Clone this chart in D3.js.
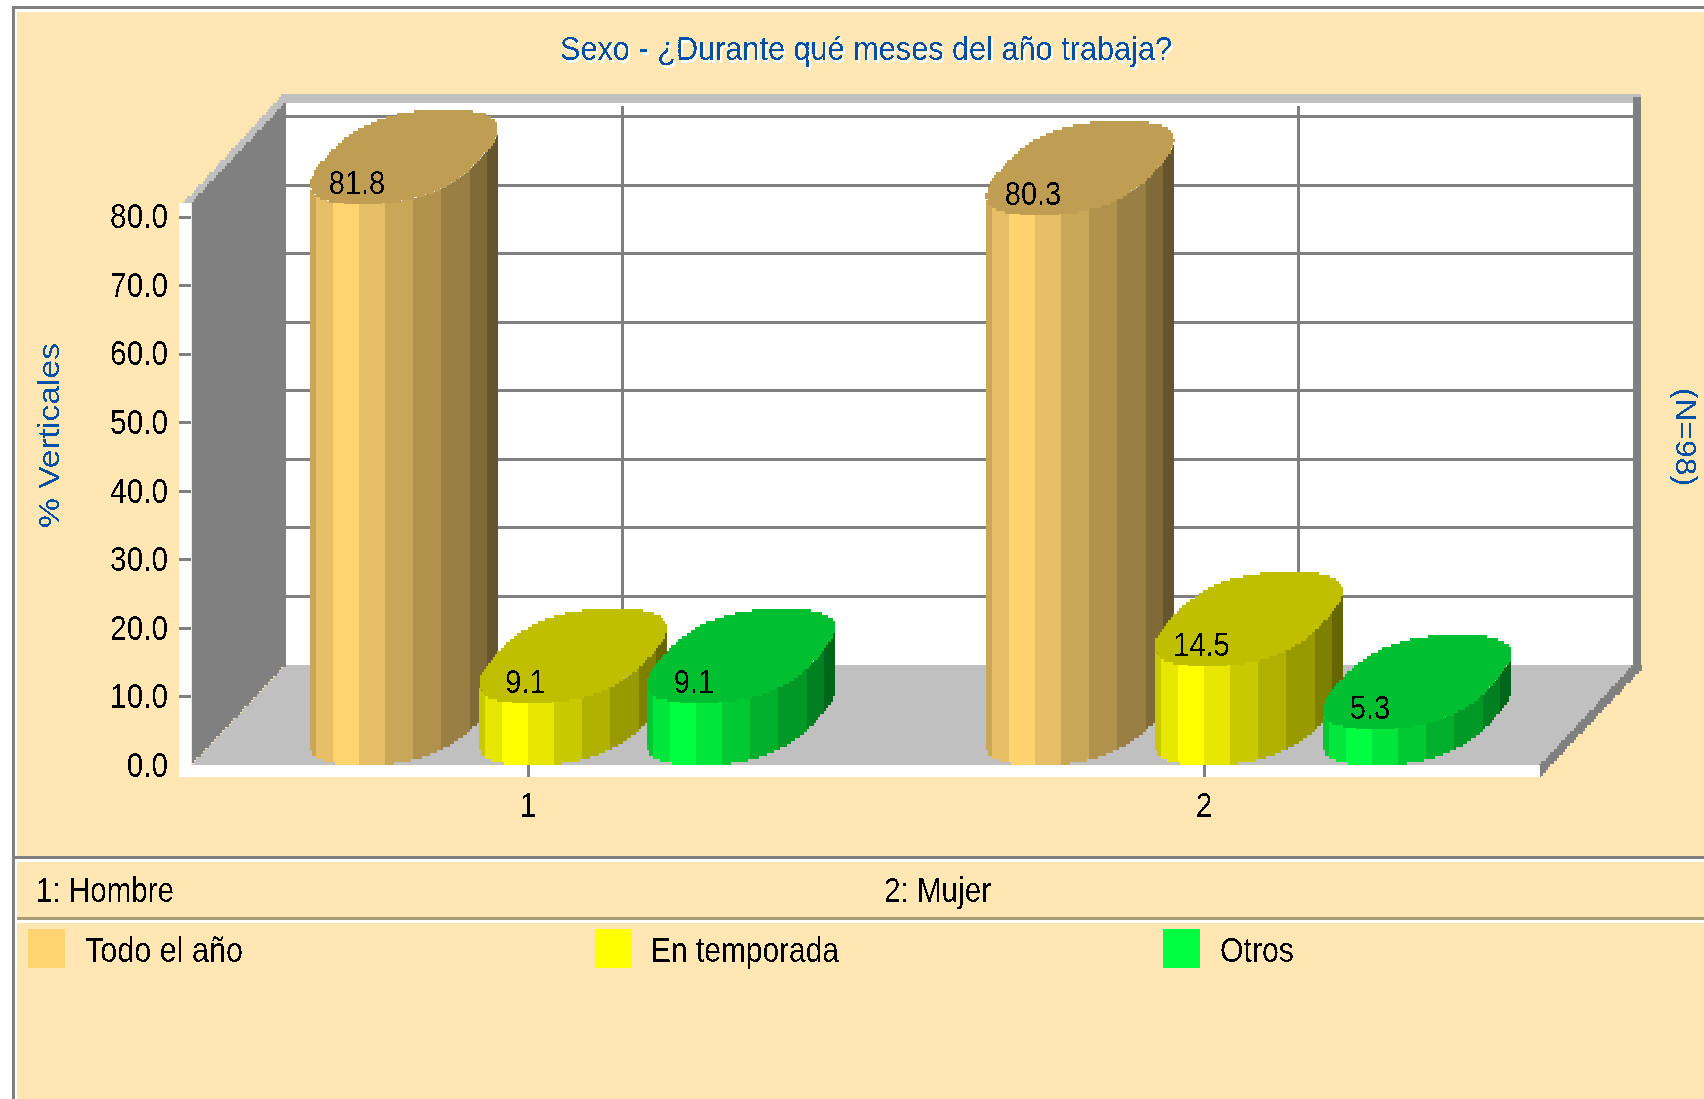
<!DOCTYPE html>
<html lang="es">
<head>
<meta charset="utf-8">
<title>Sexo - ¿Durante qué meses del año trabaja?</title>
<script src="https://cdn.jsdelivr.net/npm/d3@7/dist/d3.min.js"></script>
<style>
html,body{margin:0;padding:0;background:#fff;overflow:hidden}
svg{display:block}
text{font-family:"Liberation Sans",Arial,sans-serif}
</style>
</head>
<body>
<svg id="c" width="1704" height="1099"></svg>
<script>
const categories = ['1', '2'];
const categoryNames = ['1: Hombre', '2: Mujer'];
const seriesNames = ['Todo el año', 'En temporada', 'Otros'];
const todoElAno = [81.8, 80.3];
const enTemporada = [9.1, 14.5];
const otros = [9.1, 5.3];
const seriesColors = ['#ffd370', '#ffff00', '#00ff40'];
const yTicks = [0, 10, 20, 30, 40, 50, 60, 70, 80];
const titleText = 'Sexo - ¿Durante qué meses del año trabaja?';
const yAxisTitle = '% Verticales';
const rightTitle = '(N=98)';

const BG = '#ffe6b3', GRAY = '#808080', SILVER = '#c0c0c0', BLUE = '#0050a8';
const svg = d3.select('#c');
const defs = svg.append('defs');
const hard = defs.append('filter').attr('id', 'hard').attr('x', '-5%').attr('y', '-20%').attr('width', '110%').attr('height', '140%');
hard.append('feComponentTransfer').append('feFuncA').attr('type', 'discrete').attr('tableValues', '0 1');
const shadow = defs.append('filter').attr('id', 'shadow').attr('x', '-5%').attr('y', '-20%').attr('width', '110%').attr('height', '140%');
shadow.append('feComponentTransfer').attr('result', 'h').append('feFuncA').attr('type', 'discrete').attr('tableValues', '0 1');
shadow.append('feOffset').attr('in', 'h').attr('dx', 2).attr('dy', 3).attr('result', 'o');
shadow.append('feFlood').attr('flood-color', '#fff').attr('result', 'w');
shadow.append('feComposite').attr('in', 'w').attr('in2', 'o').attr('operator', 'in').attr('result', 's');
const sm = shadow.append('feMerge');
sm.append('feMergeNode').attr('in', 's');
sm.append('feMergeNode').attr('in', 'h');

const PX = 2.18, PY = 3;
const snapX = v => Math.round(v / PX) * PX;

// Rasterise a convex polygon into source-pixel rows, as in the low-res original.
function scan(points) {
  const ys = points.map(p => p[1]);
  const y0 = d3.min(ys), y1 = d3.max(ys);
  let d = '';
  for (let y = y0; y < y1; y += PY) {
    const m = Math.min(y + PY / 2, (y + y1) / 2), xs = [];
    points.forEach((p, i) => {
      const q = points[(i + 1) % points.length];
      if ((p[1] <= m && q[1] > m) || (q[1] <= m && p[1] > m)) {
        xs.push(p[0] + (m - p[1]) / (q[1] - p[1]) * (q[0] - p[0]));
      }
    });
    if (xs.length < 2) continue;
    const a = snapX(d3.min(xs)), b = snapX(d3.max(xs));
    const yb = Math.min(y + PY, y1);
    if (b > a) d += `M${a} ${y}H${b}V${yb}H${a}Z`;
  }
  return d;
}
const fillPoly = (pts, fill, g) => (g || svg).append('path').attr('d', scan(pts)).attr('fill', fill).attr('shape-rendering', 'crispEdges');
const rect = (x, y, w, h, fill) => svg.append('rect').attr('x', x).attr('y', y).attr('width', w).attr('height', h).attr('fill', fill).attr('shape-rendering', 'crispEdges');

function fit(sel, len) { sel.attr('textLength', len).attr('lengthAdjust', 'spacingAndGlyphs'); return sel; }
function label(str, x, y, len, size, fill, anchor) {
  const t = svg.append('text').attr('x', x).attr('y', y).attr('font-size', size).attr('fill', fill || '#000')
    .attr('text-anchor', anchor || 'start').attr('filter', 'url(#hard)').text(str);
  return fit(t, len);
}

// Panel
rect(0, 0, 1704, 1099, '#fff');
rect(12, 6, 1692, 3, GRAY);
rect(12, 6, 3, 1093, GRAY);
rect(17, 12, 1687, 1087, BG);

// Scales
const y = d3.scaleLinear().domain([0, 80]).range([765, 216.7]);
const x = d3.scaleBand().domain(categories).range([190, 1542]);
const offs = d3.scalePoint().domain(seriesNames).range([-168.5, 168.5]);
const DX = 94, DY = -100;
const floorY = y(0), wallX = 191, rightX = 1540;
const cx = c => x(c) + x.bandwidth() / 2;

// Back wall, grid
rect(wallX + DX, floorY + DY - 562, 1633 - wallX - DX, 562, '#fff');
yTicks.filter(d => d > 0).forEach(d => rect(wallX + DX, y(d) + DY - 1.5, 1633 - wallX - DX, 3, GRAY));
categories.forEach(c => rect(cx(c) + DX - 1, 106, 3, 559, GRAY));

// Floor and side
fillPoly([[wallX, floorY], [rightX, floorY], [rightX + DX - 1, floorY + DY], [wallX + DX, floorY + DY]], SILVER);
fillPoly([[wallX, 203], [wallX + DX, 103], [wallX + DX, floorY + DY], [wallX, floorY]], GRAY);
fillPoly([[183, 203], [283, 94], [wallX + DX, 94], [wallX + DX, 103], [wallX, 203]], SILVER);
rect(283, 94, 1358, 9, SILVER);
rect(1633, 97, 8, 573, GRAY);
fillPoly([[rightX, floorY], [1633, 665], [1641, 665], [1641, 670], [rightX, 777]], GRAY);
rect(179, 203, 12, 574, '#fff');
rect(179, floorY, rightX - 179, 12, '#fff');

// Axes
const yAxis = d3.axisLeft(y).tickValues(yTicks).tickFormat(d3.format('.1f')).tickSize(12).tickPadding(11);
const gy = svg.append('g').attr('transform', `translate(${wallX},0)`).call(yAxis);
const xAxis = d3.axisBottom(x).tickSize(12).tickPadding(15);
const gx = svg.append('g').attr('transform', `translate(0,${floorY})`).call(xAxis);
[gy, gx].forEach(g => {
  g.select('.domain').remove();
  g.selectAll('line').attr('stroke', GRAY).attr('stroke-width', 3).attr('shape-rendering', 'crispEdges');
  g.selectAll('text').attr('font-size', 35).attr('font-family', '"Liberation Sans",Arial,sans-serif')
    .attr('fill', '#000').attr('filter', 'url(#hard)');
});
gy.selectAll('.tick').filter(d => d === 0).select('line').remove();
gy.selectAll('text').attr('dy', '0.32em').each(function () { fit(d3.select(this), this.getComputedTextLength() * 0.85); });
gx.selectAll('text').each(function () { fit(d3.select(this), this.getComputedTextLength() * 0.85); });

// Cylinders: the end cap is a squared ellipse sheared along the floor's depth.
const A = 83, C = 44, B = 47, R = 94, SQUARE = 0.77;
const spow = v => Math.sign(v) * Math.pow(Math.abs(v), SQUARE);
const rawRing = d3.range(0, 360, 2).map(deg => {
  const t = deg * Math.PI / 180;
  const u = spow(Math.cos(t)), v = spow(Math.sin(t));
  return [A * u + C * v, -B * v];
});
const ringK = R / d3.max(rawRing, p => Math.abs(p[0]));
const ring = rawRing.map(p => [p[0] * ringK, p[1]]);
const ringPts = (mx, my) => ring.map(p => [mx + p[0], my + p[1]]);
function lowerEdge(xo) {
  const ux = Math.max(-R + 0.01, Math.min(R - 0.01, xo));
  let best = -Infinity;
  ring.forEach((p, i) => {
    const q = ring[(i + 1) % ring.length];
    if ((p[0] <= ux && q[0] > ux) || (q[0] <= ux && p[0] > ux)) {
      best = Math.max(best, p[1] + (ux - p[0]) / (q[0] - p[0]) * (q[1] - p[1]));
    }
  });
  return best;
}
const stops = [0, 6, 23, 49, 75, 103, 131, 160, 177, 188];
const shades = [0.79, 0.9, 1, 0.9, 0.79, 0.69, 0.6, 0.5, 0.4];
const TOP_SHADE = 0.75;
const tint = (col, k) => { const c = d3.rgb(col); return d3.rgb(c.r * k, c.g * k, c.b * k).formatHex(); };

function cylinder(value, cat, name, color) {
  const mx = cx(cat) + 44.5 + offs(name);
  const topY = y(value);
  const midTop = topY - B, midBase = floorY - B;
  const g = svg.append('g').attr('class', 'cyl');
  shades.forEach((k, i) => {
    const a = mx - R + stops[i], b = mx - R + stops[i + 1];
    let d = '';
    for (let u = a; u < b; u += PX) {
      const w = Math.min(PX, b - u);
      const ux = u + w / 2 - mx;
      const low = midBase + lowerEdge(ux);
      const snapped = floorY - Math.round((floorY - low) / PY) * PY;
      const high = midTop + lowerEdge(ux) - 1;
      d += `M${u} ${high}H${u + w}V${snapped}H${u}Z`;
    }
    g.append('path').attr('d', d).attr('fill', tint(color, k)).attr('shape-rendering', 'crispEdges');
  });
  fillPoly(ringPts(mx, midTop), tint(color, TOP_SHADE), g);
  const t = g.append('text').attr('x', mx - 47).attr('y', midTop + 37).attr('text-anchor', 'middle')
    .attr('font-size', 33).attr('fill', '#000').attr('filter', 'url(#hard)').text(d3.format('.1f')(value));
  fit(t, t.node().getComputedTextLength() * 0.88);
}
[todoElAno, enTemporada, otros].forEach((vals, s) => {
  categories.forEach((c, i) => cylinder(vals[i], c, seriesNames[s], seriesColors[s]));
});

// Titles
label(titleText, 560, 60, 612, 33, BLUE).attr('filter', 'url(#shadow)');
label(yAxisTitle, 0, 0, 185, 30, BLUE).attr('transform', 'translate(59,528) rotate(-90)');
label(rightTitle, 0, 0, 98, 30, BLUE).attr('transform', 'translate(1676,388) rotate(90)');

// Footer
rect(12, 856, 1692, 3, GRAY);
rect(15, 859, 1689, 3, '#fff');
rect(17, 917, 1687, 3, '#a89c78');
rect(17, 920, 1687, 3, '#fff');
const catX = [36, 884], catLen = [138, 107];
categoryNames.forEach((n, i) => label(n, catX[i], 902, catLen[i], 35));
const swX = [28, 595, 1163], legX = [85, 651, 1220], legLen = [158, 188, 74];
seriesNames.forEach((n, i) => {
  rect(swX[i], 929, 37, 39, seriesColors[i]);
  label(n, legX[i], 962, legLen[i], 35);
});
</script>
</body>
</html>
